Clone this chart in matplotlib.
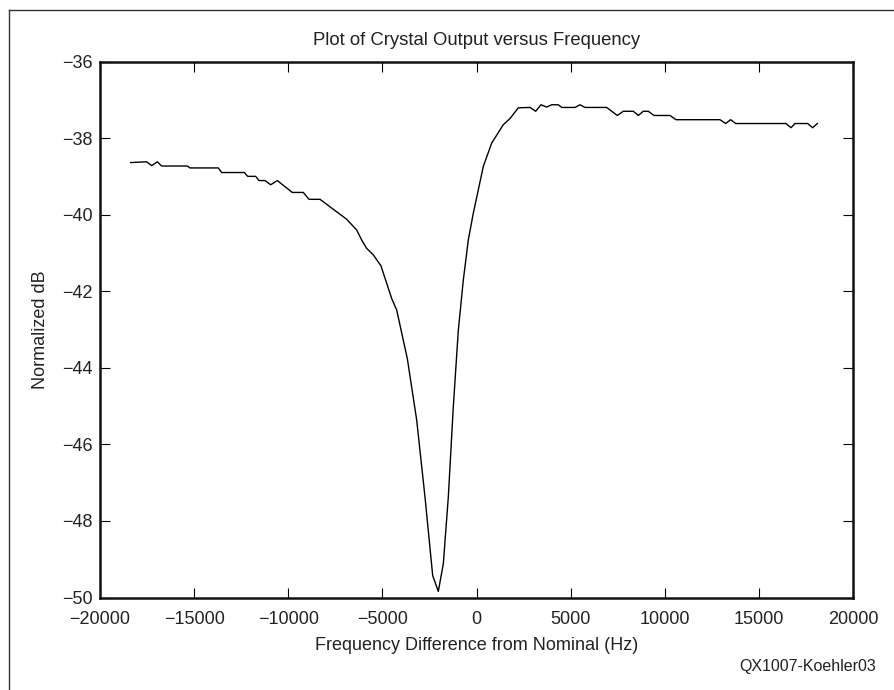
import matplotlib
matplotlib.use("Agg")
import matplotlib.pyplot as plt
from matplotlib.lines import Line2D

# values
freq_hz = [
    -18370, -17520, -17255, -16955, -16723, -15362, -15219, -13715, -13538,
    -12333, -12156, -11731, -11554, -11235, -10934, -10580, -9784, -9200,
    -8898, -8313, -7606, -6898, -6367, -6101, -5836, -5482, -5073, -4506,
    -4240, -3675, -3176, -2735, -2327, -2028, -1763, -1498, -1232, -966,
    -701, -435, -169, 362, 807, 1424, 1779, 2221, 2842, 3144, 3426, 3729,
    3994, 4345, 4525, 5232, 5498, 5764, 6915, 7481, 7799, 8330, 8596, 8861,
    9127, 9428, 10279, 10598, 12935, 13237, 13502, 13768, 16441, 16706,
    16919, 17591, 17857, 18104,
]
level_db = [
    -38.64, -38.62, -38.72, -38.62, -38.73, -38.73, -38.78, -38.78, -38.90,
    -38.90, -39.00, -39.00, -39.11, -39.11, -39.22, -39.11, -39.42, -39.42,
    -39.60, -39.60, -39.86, -40.12, -40.40, -40.66, -40.88, -41.05, -41.34, -42.19,
    -42.49, -43.76, -45.37, -47.38, -49.43, -49.84, -49.12, -47.38, -45.02, -43.02,
    -41.71, -40.66, -39.96, -38.74, -38.13, -37.65, -37.49, -37.21, -37.20,
    -37.30, -37.13, -37.19, -37.13, -37.13, -37.20, -37.20, -37.13, -37.20,
    -37.20, -37.41, -37.30, -37.30, -37.41, -37.30, -37.30, -37.41, -37.41,
    -37.52, -37.52, -37.62, -37.52, -37.62, -37.62, -37.73, -37.62, -37.62,
    -37.73, -37.62,
]

x_ticks = [-20000, -15000, -10000, -5000, 0, 5000, 10000, 15000, 20000]
y_ticks = [-36, -38, -40, -42, -44, -46, -48, -50]

plt.rcParams["font.family"] = ["Liberation Sans", "DejaVu Sans"]

fig = plt.figure(figsize=(8.94, 6.9), dpi=100)
ax = fig.add_axes([100 / 894, 1 - 597.5 / 690, 753 / 894, 536 / 690])

ax.plot(freq_hz, level_db, color="black", linewidth=1.0)

ax.set_xlim(-20000, 20000)
ax.set_ylim(-50, -36)
ax.set_xticks(x_ticks)
ax.set_yticks(y_ticks)
ax.tick_params(direction="in", length=7, width=0.8, top=True, right=True,
               labelsize=13, colors="black", labelcolor="#222222")
ax.tick_params(axis="x", pad=9.5)
ax.tick_params(axis="y", pad=5)
for s in ax.spines.values():
    s.set_linewidth(1.8)
    s.set_color("#111111")

ax.set_title("Plot of Crystal Output versus Frequency", fontsize=13.3, pad=12,
             color="#222222")
ax.set_xlabel("Frequency Difference from Nominal (Hz)", fontsize=13, labelpad=7,
              color="#222222")
ax.set_ylabel("Normalized dB", fontsize=13, labelpad=10, color="#222222")

fig.text(876 / 894, 1 - 667 / 690, "QX1007-Koehler03", ha="right", va="center",
         fontsize=11.5, color="#222222")

# frame around the figure (left and top only, as in the scan)
fig.add_artist(Line2D([8.5 / 894, 8.5 / 894], [0, 1 - 9.5 / 690],
                      transform=fig.transFigure, color="#333333", linewidth=1))
fig.add_artist(Line2D([8.5 / 894, 1], [1 - 9.5 / 690, 1 - 9.5 / 690],
                      transform=fig.transFigure, color="#333333", linewidth=1))

fig.savefig("out.png", dpi=100)
